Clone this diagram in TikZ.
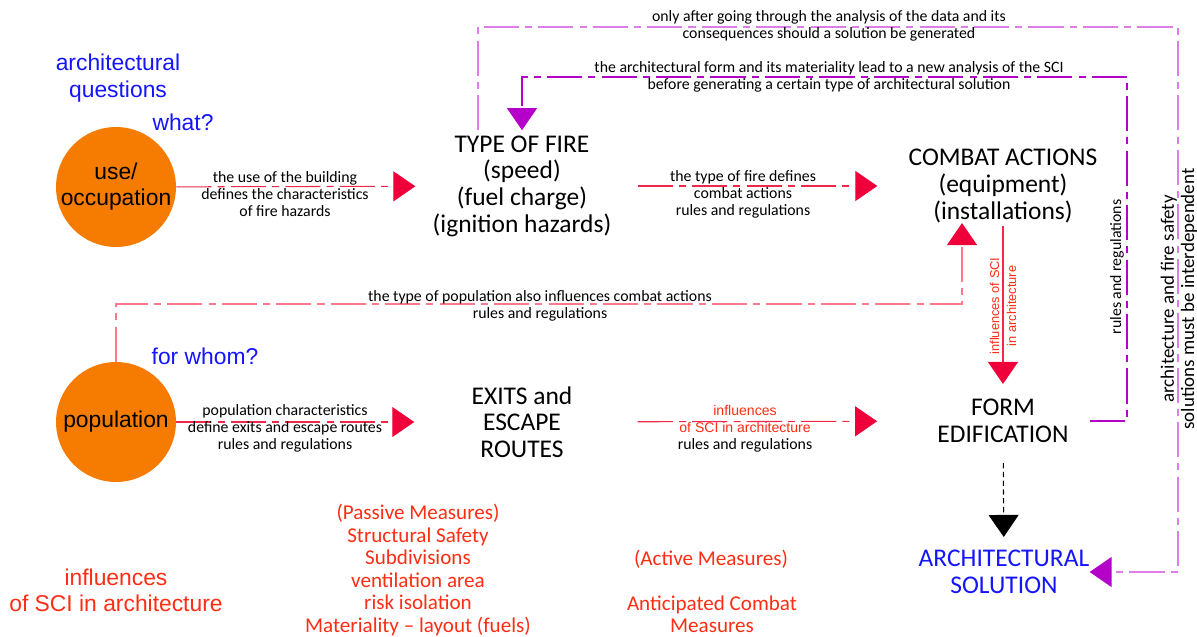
\documentclass[tikz,border=0pt]{standalone}
\usepackage{fontspec}
\setmainfont{Carlito}
\newfontfamily\arialfont{Liberation Sans}
\usetikzlibrary{arrows.meta}

\definecolor{discOrange}{RGB}{245,124,0}
\definecolor{fireRed}{RGB}{240,0,58}
\definecolor{lineRed}{RGB}{238,40,70}
\definecolor{popPink}{RGB}{255,120,140}
\definecolor{outerViolet}{RGB}{222,125,230}
\definecolor{innerViolet}{RGB}{180,0,200}
\definecolor{askBlue}{RGB}{20,20,255}
\definecolor{sciRed}{RGB}{255,45,20}

\tikzset{
  disc/.style={circle, fill=discOrange, minimum size=2.4cm, inner sep=0pt, align=center,
    font=\arialfont\fontsize{13}{14.8}\selectfont},
  box/.style={align=center, inner sep=0pt, font=\fontsize{14.5}{15.2}\selectfont},
  note/.style={align=center, inner sep=0pt, font=\fontsize{9}{9.7}\selectfont},
  ask/.style={align=center, inner sep=0pt, text=askBlue, font=\arialfont\fontsize{13}{15}\selectfont},
  sci/.style={align=center, inner sep=0pt, text=sciRed, font=\arialfont\fontsize{13}{14.8}\selectfont},
  measure/.style={align=center, inner sep=0pt, text=sciRed, font=\fontsize{12}{12.8}\selectfont},
  dashdot/.style={dash pattern=on 20pt off 3.5pt on 4pt off 3.5pt},
  bigtip/.style={-{Triangle[length=0.44cm,width=0.6cm,color=#1]}},
  redline/.style={draw=lineRed, line width=0.6pt, dashdot, bigtip=fireRed},
  popline/.style={draw=popPink, line width=0.7pt, dashdot, bigtip=fireRed},
  innerline/.style={draw=innerViolet, line width=0.6pt, dashdot, bigtip=innerViolet},
  outerline/.style={draw=outerViolet, line width=0.8pt, dashdot, bigtip=innerViolet}
}

\begin{document}
\begin{tikzpicture}[x=0.02cm, y=-0.02cm]

  \useasboundingbox (0,0) rectangle (1197,636);

  % Questions and discs
  \node[ask] (questions) at (118,78) {architectural\\questions};
  \node[ask] (what) at (183,122) {what?};
  \node[ask] (whom) at (205,356) {for whom?};

  \node[disc] (use) at (116,187) {use/\\occupation};
  \node[disc] (population) at (116,422) {population};

  % Main blocks
  \node[box] (fire) at (522,186) {TYPE OF FIRE\\(speed)\\(fuel charge)\\(ignition hazards)};
  \node[box] (combat) at (1003,186) {COMBAT ACTIONS\\(equipment)\\(installations)};
  \node[box] (exits) at (522,422) {EXITS and\\ESCAPE\\ROUTES};
  \node[box] (form) at (1003,421) {FORM\\EDIFICATION};
  \node[box, text=askBlue] (solution) at (1004,572) {ARCHITECTURAL\\SOLUTION};

  %% Measures
  \node[sci] (influences) at (116,590) {influences\\of SCI in architecture};
  \node[measure] (passive) at (418,570) {(Passive Measures)\\Structural Safety\\Subdivisions\\ventilation area\\risk isolation\\Materiality -- layout (fuels)};
  \node[measure] (active) at (711,559) {(Active Measures)};
  \node[measure] (anticipated) at (712,614) {Anticipated Combat\\Measures};

  % Bends of the loops
  \coordinate (pop-bend) at (116,304);
  \coordinate (inner-corner) at (1127,77);
  \coordinate (outer-corner) at (1178,27);

  % Red arrows
  \draw[redline, shorten >=0.34cm] (use) -- (fire);
  \draw[redline, shorten <=0.52cm, shorten >=0.62cm] (fire) -- (combat);
  \draw[redline, shorten >=1.14cm] (population) -- (exits);
  \draw[redline, shorten <=1.3cm, shorten >=1.2cm] (exits) -- (form);
  \draw[redline, solid, shorten <=0.06cm, shorten >=0.3cm] (combat) -- (form);

  \node[note] at (285,194.5) {the use of the building\\defines the characteristics\\of fire hazards};
  \node[note] at (743,194) {the type of fire defines\\combat actions\\rules and regulations};
  \node[note] at (285,428) {population characteristics\\define exits and escape routes\\rules and regulations};
  \node[note] at (745,428.5) {\textcolor{sciRed}{\arialfont\fontsize{8}{9.7}\selectfont influences}\\
    \textcolor{sciRed}{\arialfont\fontsize{8}{9.7}\selectfont of SCI in architecture}\\rules and regulations};
  \node[note, rotate=90, text=sciRed, font=\arialfont\fontsize{7.3}{9.7}\selectfont] at (1003,306) {influences of SCI\\in architecture};

  %% Population loop
  \draw[popline] (population.north) -- (pop-bend) -| ([xshift=-0.82cm]combat.south);
  \node[note] at (540,306) {the type of population also influences combat actions\\rules and regulations};

  % Black dashed arrow
  \draw[dash pattern=on 3pt off 2pt, line width=0.6pt, -{Triangle[length=0.44cm,width=0.6cm]},
    shorten <=0.4cm, shorten >=0.26cm] (form) -- (solution);

  %% Violet loops
  \draw[innerline, shorten <=0.42cm, shorten >=0.1cm] (form.east) -| (inner-corner) -| (fire.north);
  \node[note] at (829,77) {the architectural form and its materiality lead to a new analysis of the SCI\\before generating a certain type of architectural solution};
  \node[note, rotate=90] at (1117,267) {rules and regulations};

  \draw[outerline, shorten <=0.1cm] ([xshift=-0.88cm]fire.north) |- (outer-corner) |- (solution.east);
  \node[note] at (829,26) {only after going through the analysis of the data and its\\consequences should a solution be generated};
  \node[note, rotate=90, font=\fontsize{10.8}{11.5}\selectfont] at (1179,299) {architecture and fire safety\\solutions must be interdependent};

\end{tikzpicture}
\end{document}
